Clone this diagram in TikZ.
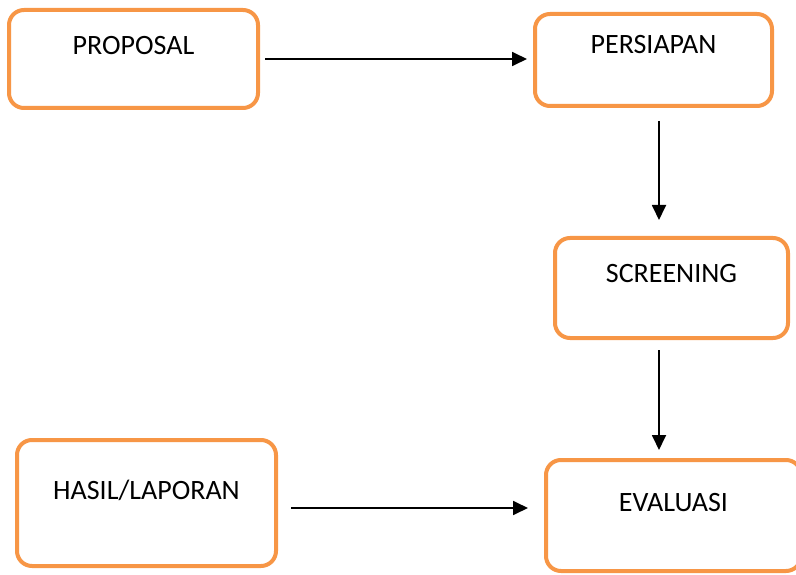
\documentclass[tikz,border=0pt]{standalone}
\usepackage{fontspec}
\setmainfont{Carlito}
\usetikzlibrary{shapes}
\usetikzlibrary{positioning}
\usetikzlibrary{arrows.meta}
\definecolor{boxorange}{HTML}{F79646}
\tikzset{
    stepbox/.style = {rectangle, rounded corners=15pt, line width=4pt, draw=boxorange, fill=white, inner ysep=0pt, font=\fontsize{28}{33}\selectfont, anchor=base},
    edgen/.style = {-{Triangle[length=15pt,width=14pt]}, line width=1.8pt, black},
}
\begin{document}
\begin{tikzpicture}[x=1pt,y=-1pt]
\useasboundingbox (0,0) rectangle (796,575);
\node[stepbox, minimum width=249pt, text height=45pt, text depth=53pt] at (133.5,55) (1) {PROPOSAL};
\node[stepbox, minimum width=237pt, text height=40pt, text depth=52pt] at (653.5,54) (2) {PERSIAPAN};
\node[stepbox, minimum width=233pt, text height=44pt, text depth=56pt] at (671.5,282) (3) {SCREENING};
\node[stepbox, minimum width=259pt, text height=59pt, text depth=67pt] at (146.5,499) (4) {HASIL/LAPORAN};
\node[stepbox, minimum width=255pt, text height=51pt, text depth=60pt] at (673.5,511) (5) {EVALUASI};

\draw[edgen, shorten <=5pt, shorten >=6pt] (1.east) -- (1.east -| 2.west);
\draw[edgen, shorten <=13pt, shorten >=16pt] ([xshift=5.5pt]2.south) -- ([xshift=5.5pt]2.south |- 3.north);
\draw[edgen, shorten <=10pt, shorten >=8pt] ([xshift=-12.5pt]3.south) -- ([xshift=-12.5pt]3.south |- 5.north);
\draw[edgen, shorten <=13pt, shorten >=16pt] ([yshift=-5pt]4.east) -- ([yshift=-5pt]4.east -| 5.west);

\end{tikzpicture}
\end{document}
